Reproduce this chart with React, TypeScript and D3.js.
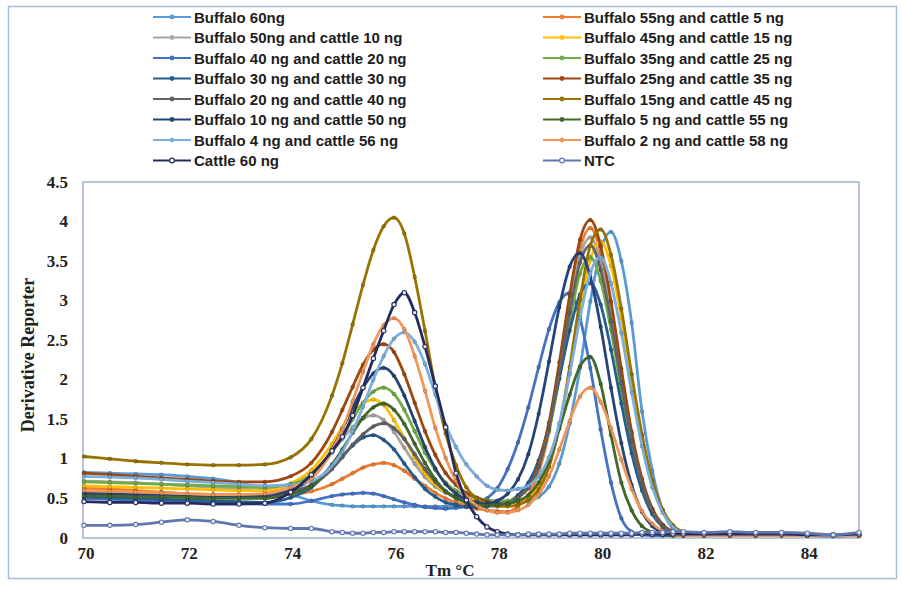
import React from "react";
import * as d3 from "d3";

// Temperature grid (°C)
const TEMPS = [
  70, 70.5, 71, 71.5, 72, 72.5, 73, 73.5, 74,
  74.4, 74.8, 75.0, 75.2, 75.4, 75.6, 75.8, 76.0, 76.2, 76.4,
  76.6, 76.8, 77.0, 77.2, 77.4, 77.6, 77.8, 78.0, 78.2,
  78.4, 78.6, 78.8, 79.0, 79.2, 79.4, 79.6, 79.8, 80.0, 80.2,
  80.4, 80.6, 80.8, 81.0, 81.2, 81.4, 81.6,
  82, 82.5, 83, 83.5, 84, 84.5, 85,
];

const SERIES_NAMES = [
  "Buffalo 60ng",
  "Buffalo 55ng and cattle 5 ng",
  "Buffalo 50ng and cattle 10 ng",
  "Buffalo 45ng and cattle 15 ng",
  "Buffalo 40 ng and cattle 20 ng",
  "Buffalo 35ng and cattle 25 ng",
  "Buffalo 30 ng and cattle 30 ng",
  "Buffalo 25ng and cattle 35 ng",
  "Buffalo 20 ng and cattle 40 ng",
  "Buffalo 15ng and cattle 45 ng",
  "Buffalo 10 ng and cattle 50 ng",
  "Buffalo 5 ng and cattle 55 ng",
  "Buffalo 4 ng and cattle 56 ng",
  "Buffalo 2 ng and cattle 58 ng",
  "Cattle 60 ng",
  "NTC",
];

const buffalo60 = [
  0.83, 0.82, 0.81, 0.80, 0.78, 0.75, 0.70, 0.62, 0.55,
  0.47, 0.42, 0.41, 0.40, 0.40, 0.40, 0.40, 0.40, 0.40, 0.40,
  0.40, 0.40, 0.40, 0.40, 0.40, 0.40, 0.41, 0.42, 0.44,
  0.46, 0.47, 0.52, 0.65, 0.94, 1.45, 2.15, 2.99, 3.64, 3.87,
  3.50, 2.72, 1.60, 0.85, 0.35, 0.12, 0.05,
  0.03, 0.03, 0.03, 0.03, 0.03, 0.02, 0.03,
];
const b55c5 = [
  0.63, 0.62, 0.60, 0.58, 0.56, 0.55, 0.54, 0.54, 0.55,
  0.59, 0.68, 0.75, 0.82, 0.89, 0.93, 0.95, 0.92, 0.85, 0.75,
  0.66, 0.57, 0.50, 0.45, 0.41, 0.37, 0.35, 0.34, 0.33,
  0.40, 0.54, 0.83, 1.34, 2.10, 2.95, 3.65, 3.92, 3.61, 2.94,
  2.10, 1.32, 0.73, 0.37, 0.16, 0.08, 0.04,
  0.03, 0.03, 0.03, 0.03, 0.03, 0.03, 0.03,
];
const b50c10 = [
  0.72, 0.71, 0.70, 0.68, 0.66, 0.64, 0.62, 0.61, 0.67,
  0.81, 1.09, 1.25, 1.40, 1.51, 1.55, 1.49, 1.34, 1.14, 0.94,
  0.77, 0.65, 0.57, 0.53, 0.50, 0.48, 0.47, 0.46, 0.46,
  0.53, 0.66, 0.94, 1.42, 2.12, 2.92, 3.56, 3.80, 3.47, 2.81,
  2.01, 1.26, 0.70, 0.35, 0.16, 0.07, 0.04,
  0.03, 0.03, 0.03, 0.03, 0.03, 0.03, 0.03,
];
const b45c15 = [
  0.66, 0.65, 0.64, 0.63, 0.62, 0.61, 0.60, 0.60, 0.69,
  0.86, 1.19, 1.40, 1.58, 1.70, 1.75, 1.68, 1.49, 1.26, 1.02,
  0.81, 0.67, 0.58, 0.52, 0.49, 0.47, 0.46, 0.45, 0.45,
  0.47, 0.52, 0.65, 0.92, 1.40, 2.09, 2.88, 3.52, 3.75, 3.44,
  2.78, 1.99, 1.25, 0.69, 0.34, 0.16, 0.07,
  0.03, 0.03, 0.03, 0.03, 0.03, 0.03, 0.03,
];
const b40c20 = [
  0.50, 0.49, 0.48, 0.47, 0.46, 0.45, 0.44, 0.43, 0.43,
  0.47, 0.53, 0.55, 0.56, 0.57, 0.56, 0.53, 0.49, 0.45, 0.42,
  0.39, 0.38, 0.37, 0.38, 0.40, 0.43, 0.50, 0.63, 0.87,
  1.21, 1.65, 2.16, 2.64, 2.98, 3.10, 2.78, 2.15, 1.37, 0.70,
  0.25, 0.08, 0.04, 0.03, 0.03, 0.03, 0.03,
  0.03, 0.03, 0.03, 0.03, 0.03, 0.03, 0.03,
];
const b35c25 = [
  0.71, 0.70, 0.69, 0.68, 0.67, 0.66, 0.65, 0.64, 0.68,
  0.79, 1.08, 1.29, 1.50, 1.71, 1.85, 1.90, 1.82, 1.62, 1.35,
  1.08, 0.86, 0.70, 0.60, 0.54, 0.51, 0.48, 0.47, 0.47,
  0.54, 0.65, 0.91, 1.36, 2.01, 2.74, 3.34, 3.55, 3.25, 2.63,
  1.87, 1.17, 0.65, 0.32, 0.15, 0.07, 0.04,
  0.03, 0.03, 0.03, 0.03, 0.03, 0.03, 0.03,
];
const b30c30 = [
  0.52, 0.51, 0.50, 0.49, 0.48, 0.47, 0.46, 0.45, 0.51,
  0.64, 0.89, 1.03, 1.17, 1.27, 1.30, 1.24, 1.12, 0.94, 0.77,
  0.62, 0.52, 0.45, 0.42, 0.39, 0.39, 0.40, 0.41, 0.43,
  0.54, 0.70, 0.98, 1.43, 2.02, 2.62, 3.08, 3.22, 2.95, 2.38,
  1.70, 1.07, 0.60, 0.30, 0.14, 0.06, 0.03,
  0.03, 0.03, 0.03, 0.03, 0.03, 0.03, 0.03,
];
const b25c35 = [
  0.82, 0.80, 0.78, 0.76, 0.74, 0.72, 0.71, 0.71, 0.78,
  0.95, 1.34, 1.62, 1.91, 2.19, 2.38, 2.45, 2.35, 2.07, 1.71,
  1.35, 1.05, 0.82, 0.67, 0.57, 0.51, 0.46, 0.44, 0.43,
  0.51, 0.64, 0.94, 1.46, 2.22, 3.07, 3.77, 4.02, 3.69, 2.99,
  2.14, 1.34, 0.75, 0.37, 0.17, 0.08, 0.04,
  0.03, 0.03, 0.03, 0.03, 0.03, 0.03, 0.03,
];
const b20c40 = [
  0.58, 0.57, 0.56, 0.56, 0.55, 0.55, 0.55, 0.55, 0.59,
  0.67, 0.87, 1.02, 1.18, 1.31, 1.41, 1.45, 1.39, 1.25, 1.06,
  0.87, 0.71, 0.59, 0.52, 0.48, 0.45, 0.44, 0.44, 0.44,
  0.51, 0.63, 0.90, 1.38, 2.08, 2.85, 3.48, 3.70, 3.39, 2.74,
  1.96, 1.23, 0.69, 0.34, 0.15, 0.07, 0.04,
  0.03, 0.03, 0.03, 0.03, 0.03, 0.03, 0.03,
];
const b15c45 = [
  1.03, 1.00, 0.97, 0.95, 0.93, 0.92, 0.92, 0.93, 1.02,
  1.25, 1.80, 2.21, 2.70, 3.20, 3.64, 3.94, 4.05, 3.85, 3.30,
  2.62, 1.90, 1.32, 0.92, 0.64, 0.50, 0.43, 0.40, 0.40,
  0.42, 0.48, 0.61, 0.90, 1.41, 2.16, 3.01, 3.70, 3.90, 3.58,
  2.90, 2.07, 1.31, 0.73, 0.36, 0.16, 0.08,
  0.03, 0.03, 0.03, 0.03, 0.03, 0.03, 0.03,
];
const b10c50 = [
  0.56, 0.55, 0.55, 0.54, 0.54, 0.53, 0.53, 0.53, 0.61,
  0.75, 1.12, 1.37, 1.65, 1.90, 2.08, 2.15, 2.05, 1.80, 1.48,
  1.15, 0.88, 0.68, 0.56, 0.49, 0.45, 0.43, 0.47, 0.56,
  0.74, 1.06, 1.57, 2.23, 2.92, 3.43, 3.60, 3.30, 2.67, 1.90,
  1.20, 0.67, 0.33, 0.15, 0.07, 0.04, 0.03,
  0.03, 0.03, 0.03, 0.03, 0.03, 0.03, 0.03,
];
const b5c55 = [
  0.53, 0.53, 0.52, 0.52, 0.51, 0.50, 0.50, 0.50, 0.56,
  0.66, 0.93, 1.12, 1.33, 1.52, 1.65, 1.70, 1.62, 1.44, 1.19,
  0.95, 0.74, 0.59, 0.50, 0.45, 0.41, 0.41, 0.42, 0.43,
  0.47, 0.54, 0.70, 0.97, 1.38, 1.81, 2.17, 2.29, 1.95, 1.30,
  0.70, 0.35, 0.15, 0.07, 0.04, 0.03, 0.03,
  0.03, 0.03, 0.03, 0.03, 0.03, 0.03, 0.03,
];
const b4c56 = [
  0.78, 0.77, 0.76, 0.74, 0.72, 0.70, 0.68, 0.66, 0.67,
  0.72, 0.91, 1.09, 1.35, 1.66, 2.00, 2.30, 2.52, 2.60, 2.48,
  2.20, 1.81, 1.43, 1.15, 0.93, 0.78, 0.66, 0.61, 0.60,
  0.62, 0.66, 0.78, 1.02, 1.45, 2.07, 2.78, 3.35, 3.55, 3.22,
  2.59, 1.84, 1.16, 0.64, 0.32, 0.14, 0.06,
  0.03, 0.03, 0.03, 0.03, 0.03, 0.03, 0.03,
];
const b2c58 = [
  0.60, 0.59, 0.58, 0.57, 0.56, 0.55, 0.55, 0.56, 0.64,
  0.75, 1.10, 1.37, 1.73, 2.10, 2.45, 2.69, 2.78, 2.64, 2.30,
  1.86, 1.39, 1.01, 0.72, 0.53, 0.41, 0.35, 0.32, 0.32,
  0.35, 0.42, 0.55, 0.78, 1.12, 1.48, 1.79, 1.90, 1.72, 1.39,
  0.99, 0.62, 0.34, 0.18, 0.09, 0.04, 0.03,
  0.03, 0.03, 0.03, 0.03, 0.03, 0.03, 0.03,
];
const cattle60 = [
  0.46, 0.45, 0.45, 0.44, 0.44, 0.43, 0.43, 0.44, 0.58,
  0.80, 1.10, 1.28, 1.55, 1.90, 2.27, 2.62, 2.95, 3.10, 2.85,
  2.42, 1.92, 1.40, 0.82, 0.48, 0.27, 0.14, 0.08, 0.05,
  0.04, 0.04, 0.04, 0.04, 0.04, 0.04, 0.04, 0.04, 0.04, 0.04,
  0.04, 0.04, 0.05, 0.05, 0.05, 0.05, 0.05,
  0.05, 0.05, 0.05, 0.05, 0.04, 0.04, 0.05,
];
const ntc = [
  0.16, 0.16, 0.17, 0.20, 0.23, 0.21, 0.16, 0.13, 0.12,
  0.12, 0.08, 0.07, 0.06, 0.06, 0.07, 0.07, 0.08, 0.08, 0.08,
  0.08, 0.08, 0.07, 0.07, 0.06, 0.05, 0.04, 0.04, 0.04,
  0.04, 0.05, 0.05, 0.05, 0.05, 0.06, 0.06, 0.06, 0.06, 0.06,
  0.06, 0.06, 0.07, 0.07, 0.07, 0.08, 0.08,
  0.07, 0.08, 0.07, 0.07, 0.06, 0.04, 0.07,
];

const SERIES_VALUES = [
  buffalo60, b55c5, b50c10, b45c15, b40c20, b35c25, b30c30, b25c35,
  b20c40, b15c45, b10c50, b5c55, b4c56, b2c58, cattle60, ntc,
];

const Y_TICKS = [0, 0.5, 1, 1.5, 2, 2.5, 3, 3.5, 4, 4.5];
const X_TICKS = [70, 72, 74, 76, 78, 80, 82, 84];

// styles
const COLORS = [
  "#5B9BD5", "#ED7D31", "#A5A5A5", "#FFC000", "#4472C4", "#70AD47",
  "#255E91", "#9E480E", "#636363", "#997300", "#264478", "#43682B",
  "#7CAFDD", "#F1975A", "#262B5E", "#5F76AE",
];
const OPEN_MARKER = [false, false, false, false, false, false, false, false,
  false, false, false, false, false, false, true, true];

const W = 901;
const H = 591;
const PLOT = { left: 83, right: 859, top: 182, bottom: 538 };

export default function App() {
  const x = d3.scaleLinear().domain([70, 85]).range([PLOT.left + 1, PLOT.right]);
  const y = d3.scaleLinear().domain([0, 4.5]).range([PLOT.bottom, PLOT.top]);
  const line = d3
    .line<[number, number]>()
    .x((d) => x(d[0]))
    .y((d) => y(d[1]))
    .curve(d3.curveMonotoneX);

  const serif = "'Liberation Serif', 'Times New Roman', serif";
  const sans = "'Liberation Sans', Arial, sans-serif";

  const series = SERIES_VALUES.map((vals, i) => {
    const n = Math.min(vals.length, TEMPS.length);
    const pts: [number, number][] = [];
    for (let k = 0; k < n; k++) pts.push([TEMPS[k], vals[k]]);
    return { name: SERIES_NAMES[i], color: COLORS[i], open: OPEN_MARKER[i], pts };
  });

  const legendRowY = (r: number) => 17 + r * 20.5;

  return (
    <svg
      width={W}
      height={H}
      style={{ position: "absolute", left: 0, top: 0, background: "#fff" }}
    >
      <rect x={0} y={0} width={W} height={H} fill="#fff" />
      {/* outer frame */}
      <rect x={8.5} y={6.5} width={888} height={572} fill="none" stroke="#A9BCD8" strokeWidth={1.5} />

      {/* legend */}
      {series.map((s, i) => {
        const col = i % 2;
        const row = Math.floor(i / 2);
        const lx = col === 0 ? 153 : 543;
        const cy = legendRowY(row);
        return (
          <g key={"lg" + i}>
            <line x1={lx} x2={lx + 38} y1={cy} y2={cy} stroke={s.color} strokeWidth={2} />
            <circle
              cx={lx + 19}
              cy={cy}
              r={2.4}
              fill={s.open ? "#fff" : s.color}
              stroke={s.color}
              strokeWidth={s.open ? 1.2 : 0}
            />
            <text
              x={lx + 41}
              y={cy}
              dominantBaseline="central"
              fontFamily={sans}
              fontWeight="bold"
              fontSize={15}
              fill="#1d1d1d"
            >
              {s.name}
            </text>
          </g>
        );
      })}

      {/* plot area */}
      <rect
        x={PLOT.left}
        y={PLOT.top}
        width={PLOT.right - PLOT.left}
        height={PLOT.bottom - PLOT.top}
        fill="#fff"
        stroke="#9FB3D1"
        strokeWidth={1.5}
      />

      {/* series */}
      {series.map((s, i) => (
        <g key={"s" + i}>
          <path d={line(s.pts) || ""} fill="none" stroke={s.color} strokeWidth={2.8} strokeLinejoin="round" />
          {s.pts.map((p, k) => (
            <circle
              key={k}
              cx={x(p[0])}
              cy={y(p[1])}
              r={s.open ? 2.2 : 1.9}
              fill={s.open ? "#e8ecf5" : s.color}
              stroke={s.open ? s.color : "#00000055"}
              strokeWidth={s.open ? 1.1 : 0.6}
            />
          ))}
        </g>
      ))}

      {/* y tick labels */}
      {Y_TICKS.map((t) => (
        <text
          key={"yt" + t}
          x={68}
          y={y(t)}
          textAnchor="end"
          dominantBaseline="central"
          fontFamily={serif}
          fontWeight="bold"
          fontSize={17}
          fill="#222"
        >
          {String(t)}
        </text>
      ))}

      {/* x tick labels */}
      {X_TICKS.map((t) => (
        <text
          key={"xt" + t}
          x={x(t) + 2}
          y={559}
          textAnchor="middle"
          fontFamily={serif}
          fontWeight="bold"
          fontSize={17}
          fill="#222"
        >
          {String(t)}
        </text>
      ))}

      {/* axis titles */}
      <text
        x={450}
        y={576}
        textAnchor="middle"
        fontFamily={serif}
        fontWeight="bold"
        fontSize={17}
        fill="#222"
      >
        Tm °C
      </text>
      <text
        transform={`translate(34, 355) rotate(-90)`}
        textAnchor="middle"
        fontFamily={serif}
        fontWeight="bold"
        fontSize={18}
        fill="#222"
      >
        Derivative Reporter
      </text>
    </svg>
  );
}
